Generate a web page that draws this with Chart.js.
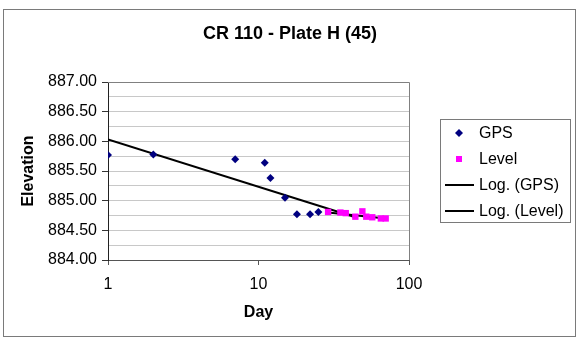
<!DOCTYPE html>
<html>
<head>
<meta charset="utf-8">
<script src="https://cdn.jsdelivr.net/npm/chart.js@4/dist/chart.umd.min.js"></script>
<style>
  html, body { margin: 0; padding: 0; background: #fff; }
</style>
</head>
<body>
<canvas id="chart" width="579" height="339"></canvas>
<script>
// Readings
const chartTitle = 'CR 110 - Plate H (45)';

const gpsDay = [1, 2, 7, 11, 12, 15, 18, 22, 25];
const gpsElev = [885.77, 885.78, 885.70, 885.64, 885.38, 885.05, 884.77, 884.77, 884.81];

const levelDay = [29, 35, 38, 44, 49, 52, 57, 65, 70];
const levelElev = [884.81, 884.80, 884.79, 884.73, 884.82, 884.73, 884.72, 884.70, 884.70];

// trendline end points (straight on a log x axis)
const gpsTrendDay = [1, 43];
const gpsTrendElev = [886.03, 884.73];
const levelTrendDay = [29, 70];
const levelTrendElev = [884.80, 884.70];

const xTicks = [1, 10, 100];

const FONT = 'Liberation Sans, Arial, sans-serif';
const pts = (xs, ys) => xs.map((x, i) => ({ x, y: ys[i] }));
const isMajor = v => Math.abs(v * 2 - Math.round(v * 2)) < 1e-6;

// outer frame, centred title, plot area border
const frame = {
  id: 'frame',
  beforeDraw(chart) {
    const ctx = chart.ctx;
    ctx.save();
    ctx.fillStyle = '#fff';
    ctx.fillRect(0, 0, chart.width, chart.height);
    ctx.strokeStyle = '#7a7a7a';
    ctx.lineWidth = 1;
    ctx.strokeRect(3.5, 9.5, 572, 327);
    ctx.fillStyle = '#000';
    ctx.font = 'bold 18px ' + FONT;
    ctx.textAlign = 'center';
    ctx.textBaseline = 'middle';
    ctx.fillText(chartTitle, 290, 34);
    ctx.restore();
  },
  beforeDatasetsDraw(chart) {
    const { ctx, chartArea: a } = chart;
    ctx.save();
    ctx.strokeStyle = '#808080';
    ctx.lineWidth = 1;
    ctx.beginPath();
    ctx.moveTo(a.left, Math.round(a.top) + 0.5);
    ctx.lineTo(Math.round(a.right) + 0.5, Math.round(a.top) + 0.5);
    ctx.lineTo(Math.round(a.right) + 0.5, a.bottom);
    ctx.stroke();
    ctx.restore();
  }
};

// Excel-like boxed legend on the right
const boxLegend = {
  id: 'boxLegend',
  afterDraw(chart) {
    const ctx = chart.ctx;
    ctx.save();
    ctx.fillStyle = '#fff';
    ctx.strokeStyle = '#7a7a7a';
    ctx.lineWidth = 1;
    ctx.fillRect(440.5, 119.5, 130, 103);
    ctx.strokeRect(440.5, 119.5, 130, 103);
    ctx.font = '16px ' + FONT;
    ctx.textBaseline = 'middle';
    ctx.textAlign = 'left';
    chart.data.datasets.forEach((ds, i) => {
      const y = 133 + i * 26;
      if (ds.showLine) {
        ctx.strokeStyle = ds.borderColor;
        ctx.lineWidth = 2;
        ctx.beginPath();
        ctx.moveTo(445, y);
        ctx.lineTo(474, y);
        ctx.stroke();
      } else if (ds.pointStyle === 'rectRot') {
        ctx.fillStyle = ds.backgroundColor;
        ctx.beginPath();
        ctx.moveTo(459, y - 4);
        ctx.lineTo(463, y);
        ctx.lineTo(459, y + 4);
        ctx.lineTo(455, y);
        ctx.closePath();
        ctx.fill();
      } else {
        ctx.fillStyle = ds.backgroundColor;
        ctx.fillRect(456, y - 3, 6, 6);
      }
      ctx.fillStyle = '#000';
      ctx.fillText(ds.label, 479, y + 1);
    });
    ctx.restore();
  }
};

new Chart(document.getElementById('chart').getContext('2d'), {
  type: 'scatter',
  data: {
    datasets: [
      {
        label: 'GPS',
        data: pts(gpsDay, gpsElev),
        pointStyle: 'rectRot',
        pointRadius: 4,
        backgroundColor: '#000080',
        borderColor: '#000080',
        borderWidth: 0
      },
      {
        label: 'Level',
        data: pts(levelDay, levelElev),
        pointStyle: 'rect',
        pointRadius: 4.5,
        backgroundColor: '#ff00ff',
        borderColor: '#ff00ff',
        borderWidth: 0
      },
      {
        label: 'Log. (GPS)',
        data: pts(gpsTrendDay, gpsTrendElev),
        showLine: true,
        pointRadius: 0,
        borderColor: '#000',
        borderWidth: 2
      },
      {
        label: 'Log. (Level)',
        data: pts(levelTrendDay, levelTrendElev),
        showLine: true,
        pointRadius: 0,
        borderColor: '#000',
        borderWidth: 2
      }
    ]
  },
  options: {
    responsive: false,
    animation: false,
    layout: { padding: { left: 0, right: 170, top: 82, bottom: 0 } },
    plugins: {
      legend: { display: false },
      tooltip: { enabled: false },
      title: { display: false }
    },
    scales: {
      x: {
        type: 'logarithmic',
        min: 1,
        max: 100,
        afterFit: s => { s.height = 79; },
        afterBuildTicks: s => { s.ticks = xTicks.map(v => ({ value: v })); },
        ticks: {
          color: '#000',
          font: { family: FONT, size: 16 },
          padding: 10,
          callback: v => String(v)
        },
        grid: { drawOnChartArea: false, tickLength: 5, tickColor: '#555' },
        border: { color: '#555', width: 1 },
        title: {
          display: true,
          text: 'Day',
          color: '#000',
          font: { family: FONT, size: 16, weight: 'bold' },
          padding: { top: 0, bottom: 17 }
        }
      },
      y: {
        min: 884,
        max: 887,
        afterFit: s => { s.width = 108; },
        ticks: {
          stepSize: 0.25,
          autoSkip: false,
          color: '#000',
          font: { family: FONT, size: 16 },
          padding: 5,
          callback: v => isMajor(v) ? v.toFixed(2) : ''
        },
        grid: {
          color: '#c8c8c8',
          tickLength: 6,
          tickColor: c => isMajor(c.tick.value) ? '#333' : 'rgba(0,0,0,0)'
        },
        border: { color: '#222', width: 1 },
        title: {
          display: true,
          text: 'Elevation',
          color: '#000',
          font: { family: FONT, size: 16, weight: 'bold' },
          padding: { top: 19, bottom: 0 }
        }
      }
    }
  },
  plugins: [frame, boxLegend]
});
</script>
</body>
</html>
